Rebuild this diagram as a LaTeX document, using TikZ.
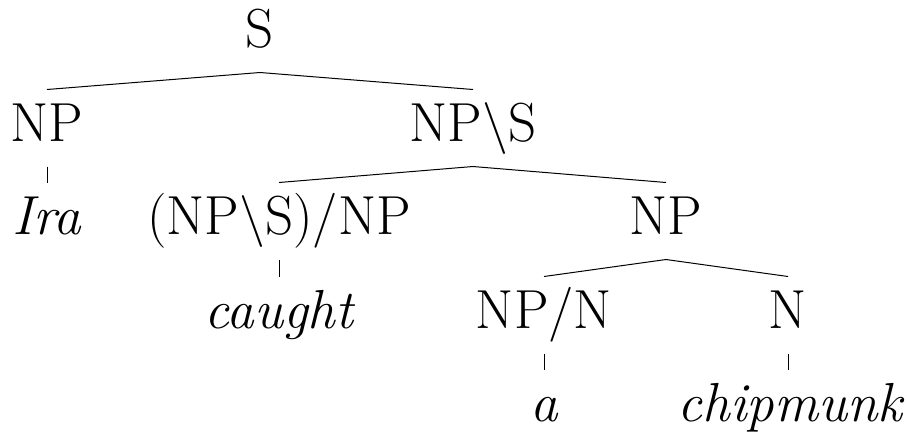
\documentclass[tikz,border=0pt]{standalone}
\usepackage{tikz}

\begin{document}
\begin{tikzpicture}[
  x=0.4pt, y=-0.4pt,
  cat/.style={inner sep=0pt, anchor=base, text height=20.4pt, text depth=10pt, font=\fontsize{22}{26}\selectfont},
  word/.style={cat, font=\fontsize{22}{26}\selectfont\itshape},
  branch/.style={line width=0.4pt}
]
\useasboundingbox (0,0) rectangle (907,435);

\node[cat] (s) at (260,47) {S};
\node[cat] (np) at (47,141) {NP};
\node[cat] (vp) at (473,141) {NP$\backslash$S};
\node[word] (ira) at (47,234) {Ira};
\node[cat] (tv) at (279,234) {(NP$\backslash$S)/NP};
\node[cat] (obj) at (666,234) {NP};
\node[word] (caught) at (279,328) {caught};
\node[cat] (det) at (544,328) {NP/N};
\node[cat] (n) at (788,328) {N};
\node[word] (a) at (544,421) {a};
\node[word] (chip) at (790,421) {chipmunk};

\draw[branch] (np.north) -- (s.south) -- (vp.north);
\draw[branch] (tv.north) -- (vp.south) -- (obj.north);
\draw[branch] (det.north) -- (obj.south) -- (n.north);
\draw[branch] (np.south) -- (ira.north);
\draw[branch] (tv.south) -- (caught.north);
\draw[branch] (det.south) -- (a.north);
\draw[branch] (n.south) -- (n.south |- chip.north);
\end{tikzpicture}
\end{document}
